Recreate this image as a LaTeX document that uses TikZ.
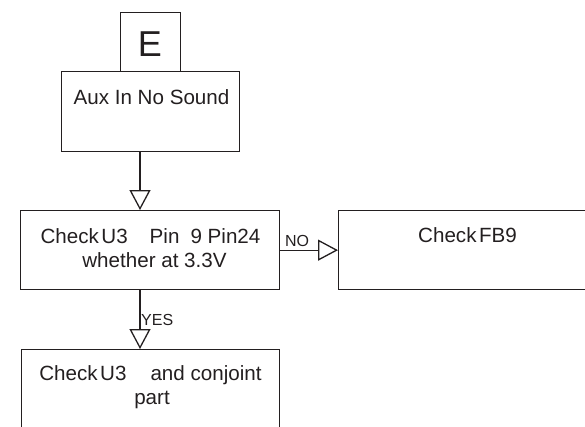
\documentclass[tikz,border=0pt]{standalone}
\usepackage{fontspec}
\setmainfont{Liberation Sans}
\usetikzlibrary{arrows.meta}
\definecolor{ink}{HTML}{231F20}
\begin{document}
\begin{tikzpicture}[x=1pt,y=-1pt,
  box/.style={draw=ink, line width=1.3pt, rectangle, inner sep=0pt, anchor=north west},
  txt/.style={font=\fontsize{20.6}{24}\selectfont, text=ink, inner sep=0pt, anchor=base},
  lbl/.style={font=\fontsize{16}{19}\selectfont, text=ink, inner sep=0pt, anchor=base},
  flow/.style={draw=ink, line width=1.3pt, -{Triangle[open, length=20pt, width=21pt, line width=1.3pt]}},
  ]
\useasboundingbox (0,0) rectangle (585,426);
\clip (0,0) rectangle (585,426);
% boxes
\node[box, minimum width=60pt, minimum height=59pt] (ebox) at (120,12) {};
\node[box, minimum width=178pt, minimum height=80pt] (aux) at (61,71) {};
\node[box, minimum width=259pt, minimum height=79pt] (check) at (20,210) {};
\node[box, minimum width=280pt, minimum height=79pt] (fb) at (338,210) {};
\node[box, minimum width=258pt, minimum height=110pt] (part) at (21,349) {};
% texts
\node[txt, font=\fontsize{36}{40}\selectfont] (etxt) at (150,56) {E};
\node[txt] (auxtxt) at (151.5,104) {Aux In No Sound};
\node[txt] (c1) at (150.5,243) {Check\hspace{0.12em}U3\hspace{22pt}Pin\hspace{11pt}9 Pin24};
\node[txt] (c2) at (154.5,267) {whether at 3.3V};
\node[txt] (fbtxt) at (467.5,242) {Check\hspace{0.12em}FB9};
\node[txt] (p1) at (150.5,380) {Check\hspace{0.12em}U3\hspace{24pt}and conjoint};
\node[txt] (p2) at (152,404) {part};
% connectors
\coordinate (ax) at (140,0);
\draw[flow] (aux.south -| ax) -- (check.north -| ax);
\draw[flow] (check.south -| ax) -- (part.north -| ax);
\draw[flow] (check.east) -- (fb.west);
\node[lbl] (no) at (297,246) {NO};
\node[lbl, anchor=base west] (yes) at (141,325) {YES};
\end{tikzpicture}
\end{document}
